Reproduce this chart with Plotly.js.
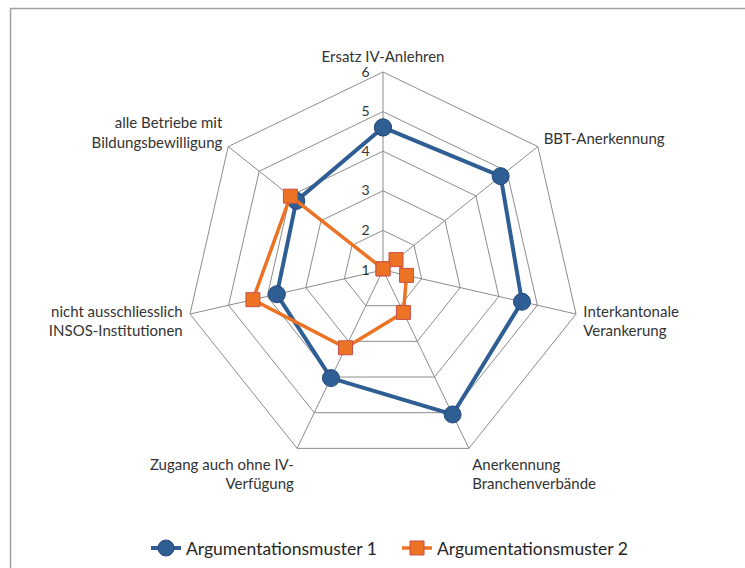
<!DOCTYPE html>
<html>
<head>
<meta charset="utf-8">
<script src="https://cdn.plot.ly/plotly-3.0.1.min.js"></script>
<style>
  body { margin: 0; background: #fff; }
  #chart { width: 745px; height: 568px; }
</style>
</head>
<body>
<div id="chart"></div>
<script>
// axes of the radar, clockwise from the top
const categories = [
  'Ersatz IV-Anlehren',
  'BBT-Anerkennung',
  'Interkantonale<br>Verankerung',
  'Anerkennung<br>Branchenverbände',
  'Zugang auch ohne IV-<br>Verfügung',
  'nicht ausschliesslich<br>INSOS-Institutionen',
  'alle Betriebe mit<br>Bildungsbewilligung'
];
const muster1 = [4.6, 4.8, 4.6, 5.05, 4.03, 3.75, 3.8];
const muster2 = [1.03, 1.42, 1.61, 2.19, 3.18, 4.37, 3.99];
const seriesNames = ['Argumentationsmuster 1', 'Argumentationsmuster 2'];
const radialTicks = [1, 2, 3, 4, 5, 6];

const closed = arr => arr.concat([arr[0]]);

const blue = '#2F5E95';
const orange = '#EC7323';
const gridGray = '#8c8c8c';

const traces = [
  {
    type: 'scatterpolar',
    mode: 'lines+markers',
    name: seriesNames[0],
    r: closed(muster1),
    theta: closed(categories),
    line: { color: blue, width: 4 },
    marker: { symbol: 'circle', size: 17, color: blue, line: { color: '#25497a', width: 1 } }
  },
  {
    type: 'scatterpolar',
    mode: 'lines+markers',
    name: seriesNames[1],
    r: closed(muster2),
    theta: closed(categories),
    line: { color: orange, width: 3.5 },
    marker: { symbol: 'square', size: 14, color: orange, line: { color: '#C8504A', width: 1 } }
  }
];

const layout = {
  width: 745,
  height: 568,
  margin: { l: 0, r: 0, t: 0, b: 0 },
  paper_bgcolor: '#ffffff',
  font: { family: 'Lato, "Liberation Sans", sans-serif', size: 15, color: '#333333' },
  showlegend: true,
  legend: {
    orientation: 'h',
    x: 0.196, xanchor: 'left',
    y: 0.035, yanchor: 'middle',
    font: { size: 17.5, color: '#262626' },
    itemwidth: 30,
    entrywidth: 206
  },
  polar: {
    domain: { x: [0.2483, 0.7799], y: [0.1761, 0.8732] },
    gridshape: 'linear',
    bgcolor: 'rgba(0,0,0,0)',
    radialaxis: {
      range: [1, 6],
      tickvals: radialTicks,
      angle: 90,
      tickangle: 90,
      side: 'counterclockwise',
      showline: false,
      ticks: 'outside',
      ticklen: 8,
      tickcolor: 'rgba(0,0,0,0)',
      gridcolor: gridGray,
      gridwidth: 1,
      tickfont: { size: 14, color: '#333333' }
    },
    angularaxis: {
      rotation: 90,
      direction: 'clockwise',
      showline: true,
      linecolor: gridGray,
      linewidth: 1,
      gridcolor: gridGray,
      gridwidth: 1,
      ticks: 'outside',
      ticklen: 4,
      tickcolor: 'rgba(0,0,0,0)',
      tickfont: { size: 15, color: '#333333' }
    }
  },
  shapes: [{
    type: 'rect', xref: 'paper', yref: 'paper',
    x0: 10.5 / 745, x1: 1.02, y0: -0.02, y1: 1 - 8.5 / 568,
    line: { color: '#a0a0a0', width: 1.5 }
  }]
};

Plotly.newPlot('chart', traces, layout, { staticPlot: true });
</script>
</body>
</html>
